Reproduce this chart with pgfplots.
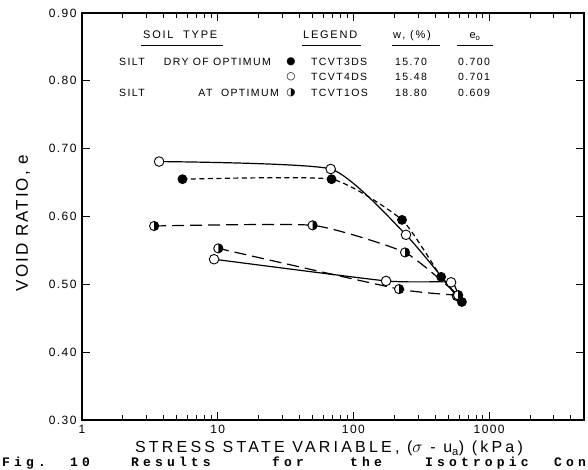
\documentclass[border=0pt]{standalone}
\usepackage{fontspec}
\setmainfont{Liberation Sans}[LetterSpace=12]
\newfontfamily\tabfont{Liberation Sans}[LetterSpace=16]
\newfontfamily\rowfont{Liberation Sans}[LetterSpace=13]
\newfontfamily\xlabfont{Liberation Sans}[LetterSpace=20]
\newfontfamily\capfont{Liberation Mono}[LetterSpace=32]
\newfontfamily\symfont{DejaVu Sans}
\usepackage{pgfplots}
\pgfplotsset{compat=1.18}
\pgfdeclareplotmark{halfcirc}{%
  \pgfpathcircle{\pgfpointorigin}{\pgfplotmarksize}%
  \pgfsetfillcolor{white}\pgfusepathqfillstroke
  \pgfpathmoveto{\pgfqpoint{0pt}{-\pgfplotmarksize}}%
  \pgfpatharc{-90}{90}{\pgfplotmarksize}%
  \pgfpathclose
  \pgfsetfillcolor{black}\pgfusepathqfill
}
\begin{document}
\begin{tikzpicture}[x=1pt,y=1pt]
\useasboundingbox (-82,-49) rectangle (506,420);
\begin{axis}[
  at={(0,0)}, anchor=south west, scale only axis,
  width=502pt, height=407pt,
  xmode=log, xmin=1, xmax=5000, ymin=0.3, ymax=0.9,
  xtick={1,10,100,1000}, xticklabels={1,10,100,1000},
  minor xtick={2,3,4,5,6,7,8,9,20,30,40,50,60,70,80,90,200,300,400,500,600,700,800,900,2000,3000,4000},
  ytick={0.3,0.4,0.5,0.6,0.7,0.8,0.9},
  yticklabels={0.30,0.40,0.50,0.60,0.70,0.80,0.90},
  tick align=inside, major tick length=8pt, minor tick length=5pt,
  axis line style={line width=1.3pt},
  every tick/.style={line width=0.9pt, black},
  /pgf/number format/assume math mode=true,
  tick label style={font=\fontsize{12}{14}\selectfont},
  yticklabel style={xshift=-2pt},
  xticklabel style={yshift=-2pt},
]
% TCVT4DS open circles (solid)
\addplot[line width=1.2pt, smooth, tension=0.3, mark=*, mark size=4.8pt,
  mark options={fill=white, line width=0.9pt}] coordinates {
  (3.7,0.681) (68,0.670) (244,0.573) (580,0.483)};
\addplot[line width=1.2pt, smooth, tension=0.3, mark=*, mark size=4.8pt,
  mark options={fill=white, line width=0.9pt}] coordinates {
  (580,0.483) (524,0.503) (174,0.505) (9.4,0.537)};
% TCVT3DS filled (short dash)
\addplot[line width=1.2pt, smooth, tension=0.3, dash pattern=on 5pt off 3.5pt, mark=*, mark size=4.3pt,
  mark options={solid, fill=black}] coordinates {
  (5.5,0.655) (69,0.655) (228,0.595) (443,0.511) (630,0.474)};
% TCVT1OS half (long dash)
\addplot[line width=1.2pt, smooth, tension=0.3, dash pattern=on 12pt off 6pt, mark=halfcirc, mark size=4.6pt,
  mark options={solid, line width=0.9pt}] coordinates {
  (3.4,0.586) (50,0.587) (240,0.547) (590,0.484)};
\addplot[line width=1.2pt, smooth, tension=0.3, dash pattern=on 12pt off 6pt, mark=halfcirc, mark size=4.6pt,
  mark options={solid, line width=0.9pt}] coordinates {
  (590,0.484) (217,0.493) (10.1,0.553)};
\end{axis}
% header table
\begin{scope}[every node/.style={inner sep=0pt, font=\tabfont\fontsize{11}{13}\selectfont}]
\node[anchor=base west] at (61,381) {SOIL\ \ TYPE};
\draw[line width=0.8pt] (59,374.5) -- (141,374.5);
\node[anchor=base west] at (221,381) {LEGEND};
\draw[line width=0.8pt] (220,374.5) -- (279,374.5);
\node[anchor=base west] at (311,381) {w,\ (\%)};
\draw[line width=0.8pt] (310,374.5) -- (358,374.5);
\node[anchor=base] at (393,381) {e$_{\mathrm{o}}$};
\draw[line width=0.8pt] (375,374.5) -- (411,374.5);
\end{scope}
% rows
\begin{scope}[every node/.style={inner sep=0pt, font=\rowfont\fontsize{10.5}{12.5}\selectfont}]
\node[anchor=base west] at (37,354) {SILT};
\node[anchor=base east] at (189,354) {DRY OF OPTIMUM};
\node[anchor=base west] at (37,323) {SILT};
\node[anchor=base east] at (197,323) {AT\ \ OPTIMUM};
\node at (209,358) {\symfont ●};
\node at (209,343) {\symfont ○};
\node at (209,327) {\symfont ◑};
\node[anchor=base west] at (229,354) {TCVT3DS};
\node[anchor=base west] at (229,339) {TCVT4DS};
\node[anchor=base west] at (229,323) {TCVT1OS};
\node[anchor=base west] at (313,354) {15.70};
\node[anchor=base west] at (313,339) {15.48};
\node[anchor=base west] at (313,323) {18.80};
\node[anchor=base west] at (376,354) {0.700};
\node[anchor=base west] at (376,339) {0.701};
\node[anchor=base west] at (376,323) {0.609};
\end{scope}
% axis labels
\node[inner sep=0pt, anchor=base, font=\xlabfont\fontsize{16}{18}\selectfont] at (247,-32.5) {STRESS STATE VARIABLE, ($\sigma$ - u$_{\mathrm{a}}$) (kPa)};
\node[rotate=90, font=\fontsize{17}{19}\selectfont] at (-59,197) {VOID RATIO, e};
% caption
\begin{scope}[every node/.style={inner sep=0pt, anchor=base west, font=\capfont\bfseries\fontsize{13}{15}\selectfont}]
\node at (-80,-46.3) {Fig.};
\node at (-12,-46.3) {10};
\node at (49,-46.3) {Results};
\node at (190,-46.3) {for};
\node at (268,-46.3) {the};
\node at (343,-46.3) {Isotropic};
\node at (472,-46.3) {Con};
\end{scope}
\end{tikzpicture}
\end{document}
